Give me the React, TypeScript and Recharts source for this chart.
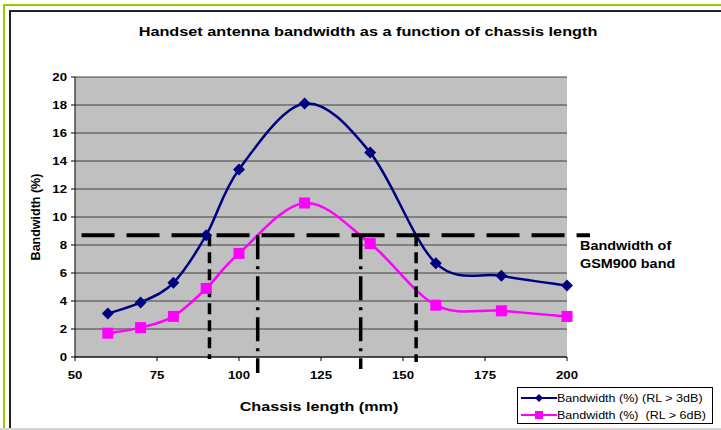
import React from 'react';
import { LineChart, Line, XAxis, YAxis, CartesianGrid, ReferenceLine } from 'recharts';

const chassisLength = [60, 70, 80, 90, 100, 120, 140, 160, 180, 200];
const bw3dB = [3.1, 3.9, 5.3, 8.7, 13.4, 18.1, 14.6, 6.7, 5.8, 5.1];
const bw6dB = [1.7, 2.1, 2.9, 4.9, 7.4, 11.0, 8.1, 3.7, 3.3, 2.9];
const seriesNames = ['Bandwidth (%) (RL > 3dB)', 'Bandwidth (%)  (RL > 6dB)'];
const seriesColors = ['#000080', '#ff00ff'];
const xTicks = [50, 75, 100, 125, 150, 175, 200];
const yTicks = [0, 2, 4, 6, 8, 10, 12, 14, 16, 18, 20];
const gsmBandwidth = 8.7;
const gsmLineSpan = [52, 207];
const crossDashed = [91, 154];
const crossDashedBottom = [-0.15, -0.35];
const crossDashDot = [105.7, 137.1];
const crossDashDotBottom = [-1.15, -0.85];

const data = chassisLength.map((x, i) => ({ x, a: bw3dB[i], b: bw6dB[i] }));

const FONT = '"Liberation Sans", Arial, sans-serif';
const STRETCH = 1.2;

function smoothCurve(context: any) {
  let pts: number[][] = [];
  return {
    areaStart() {},
    areaEnd() {},
    lineStart() {
      pts = [];
    },
    lineEnd() {
      const n = pts.length;
      if (!n) return;
      context.moveTo(pts[0][0], pts[0][1]);
      const k = 1 / 6;
      for (let i = 0; i < n - 1; i++) {
        const p0 = pts[i - 1] || pts[i];
        const p1 = pts[i];
        const p2 = pts[i + 1];
        const p3 = pts[i + 2] || p2;
        context.bezierCurveTo(
          p1[0] + (p2[0] - p0[0]) * k,
          p1[1] + (p2[1] - p0[1]) * k,
          p2[0] - (p3[0] - p1[0]) * k,
          p2[1] - (p3[1] - p1[1]) * k,
          p2[0],
          p2[1]
        );
      }
    },
    point(x: number, y: number) {
      pts.push([+x, +y]);
    },
  };
}

const Diamond = (props: any) => {
  const { cx, cy, index } = props;
  if (cx == null || cy == null) return <g key={index} />;
  const r = 6;
  return (
    <path key={index} d={`M${cx},${cy - r}L${cx + r},${cy}L${cx},${cy + r}L${cx - r},${cy}Z`} fill={seriesColors[0]} />
  );
};

const Square = (props: any) => {
  const { cx, cy, index } = props;
  if (cx == null || cy == null) return <g key={index} />;
  const s = 5.5;
  return <rect key={index} x={cx - s} y={cy - s} width={2 * s} height={2 * s} fill={seriesColors[1]} />;
};

const XTick = (props: any) => {
  const { x, y, payload } = props;
  return (
    <g transform={`translate(${x},${y})`}>
      <text
        transform={`scale(${STRETCH},1)`}
        textAnchor="middle"
        dy="0.71em"
        fontFamily={FONT}
        fontSize={11}
        fontWeight={700}
        fill="#000"
      >
        {payload.value}
      </text>
    </g>
  );
};

const YTick = (props: any) => {
  const { x, y, payload } = props;
  return (
    <g transform={`translate(${x},${y})`}>
      <text
        transform={`scale(${STRETCH},1)`}
        textAnchor="end"
        dy="0.355em"
        fontFamily={FONT}
        fontSize={11}
        fontWeight={700}
        fill="#000"
      >
        {payload.value}
      </text>
    </g>
  );
};

const hText = (extra: React.CSSProperties): React.CSSProperties => ({
  position: 'absolute',
  fontFamily: FONT,
  fontWeight: 700,
  whiteSpace: 'nowrap',
  color: '#000',
  ...extra,
});

export default function App() {
  return (
    <div style={{ position: 'fixed', left: 0, top: 0, width: 721, height: 430, background: '#fff', overflow: 'hidden' }}>
      <div style={{ position: 'absolute', left: 3, top: 4, width: 718, height: 2, background: '#99cc00' }} />
      <div style={{ position: 'absolute', left: 3, top: 4, width: 2, height: 426, background: '#99cc00' }} />
      <div style={{ position: 'absolute', left: 9, top: 10, width: 712, height: 2, background: '#222' }} />
      <div style={{ position: 'absolute', left: 9, top: 10, width: 2, height: 420, background: '#222' }} />
      <div style={{ position: 'absolute', left: 0, top: 428, width: 721, height: 2, background: '#d4d4d4' }} />

      <LineChart
        width={721}
        height={430}
        data={data}
        margin={{ top: 77, right: 154, left: 0, bottom: 43 }}
        style={{ position: 'absolute', left: 0, top: 0 }}
      >
        <CartesianGrid vertical={false} stroke="#404040" fill="#c0c0c0" horizontalValues={yTicks} />
        <XAxis
          dataKey="x"
          type="number"
          domain={[50, 200]}
          ticks={xTicks}
          height={30}
          tick={XTick}
          tickSize={4}
          tickMargin={10}
          axisLine={{ stroke: '#000', strokeWidth: 1 }}
          tickLine={{ stroke: '#000' }}
        />
        <YAxis
          type="number"
          domain={[0, 20]}
          ticks={yTicks}
          width={75}
          tick={YTick}
          tickSize={4}
          tickMargin={4}
          axisLine={{ stroke: '#000', strokeWidth: 1 }}
          tickLine={{ stroke: '#000' }}
        />
        <Line
          dataKey="a"
          name={seriesNames[0]}
          type={smoothCurve as any}
          stroke={seriesColors[0]}
          strokeWidth={2.5}
          dot={Diamond}
          activeDot={false}
          isAnimationActive={false}
        />
        <Line
          dataKey="b"
          name={seriesNames[1]}
          type={smoothCurve as any}
          stroke={seriesColors[1]}
          strokeWidth={2.5}
          dot={Square}
          activeDot={false}
          isAnimationActive={false}
        />
        <ReferenceLine
          segment={[
            { x: gsmLineSpan[0], y: gsmBandwidth },
            { x: gsmLineSpan[1], y: gsmBandwidth },
          ]}
          ifOverflow="visible"
          stroke="#000"
          strokeWidth={4}
          strokeDasharray="33 12"
        />
        {crossDashed.map((x, i) => (
          <ReferenceLine
            key={'d' + i}
            segment={[
              { x, y: gsmBandwidth },
              { x, y: crossDashedBottom[i] },
            ]}
            ifOverflow="visible"
            stroke="#000"
            strokeWidth={3.5}
            strokeDasharray="11 6"
          />
        ))}
        {crossDashDot.map((x, i) => (
          <ReferenceLine
            key={'dd' + i}
            segment={[
              { x, y: gsmBandwidth },
              { x, y: crossDashDotBottom[i] },
            ]}
            ifOverflow="visible"
            stroke="#000"
            strokeWidth={3.5}
            strokeDasharray="24 7 3 7"
          />
        ))}
      </LineChart>

      <div style={hText({ left: 368, top: 31, fontSize: 13, transform: `translate(-50%, -50%) scaleX(${STRETCH + 0.05})` })}>
        Handset antenna bandwidth as a function of chassis length
      </div>
      <div style={hText({ left: 36, top: 217, fontSize: 12.5, transform: 'translate(-50%, -50%) rotate(-90deg)' })}>
        Bandwidth (%)
      </div>
      <div style={hText({ left: 319, top: 406, fontSize: 13, transform: `translate(-50%, -50%) scaleX(${STRETCH + 0.04})` })}>
        Chassis length (mm)
      </div>
      <div
        style={hText({
          left: 580,
          top: 237,
          fontSize: 12,
          lineHeight: '18px',
          transform: `scaleX(${STRETCH})`,
          transformOrigin: 'left top',
        })}
      >
        Bandwidth of
        <br />
        GSM900 band
      </div>

      <div
        style={{
          position: 'absolute',
          left: 517,
          top: 387,
          width: 194,
          height: 35,
          border: '1px solid #000',
          background: '#fff',
          fontFamily: FONT,
          fontSize: 11,
          color: '#000',
        }}
      >
        {seriesNames.map((name, i) => (
          <div key={i} style={{ position: 'absolute', left: 3, top: 2 + i * 17, height: 15, display: 'flex', alignItems: 'center' }}>
            <svg width={36} height={12}>
              <line x1={0} y1={6} x2={36} y2={6} stroke={seriesColors[i]} strokeWidth={2} />
              {i === 0 ? (
                <path d="M18,2L22,6L18,10L14,6Z" fill={seriesColors[i]} />
              ) : (
                <rect x={14} y={2} width={8} height={8} fill={seriesColors[i]} />
              )}
            </svg>
            <span style={{ whiteSpace: 'pre', display: 'inline-block', transform: 'scaleX(1.14)', transformOrigin: 'left center' }}>
              {name}
            </span>
          </div>
        ))}
      </div>
    </div>
  );
}
